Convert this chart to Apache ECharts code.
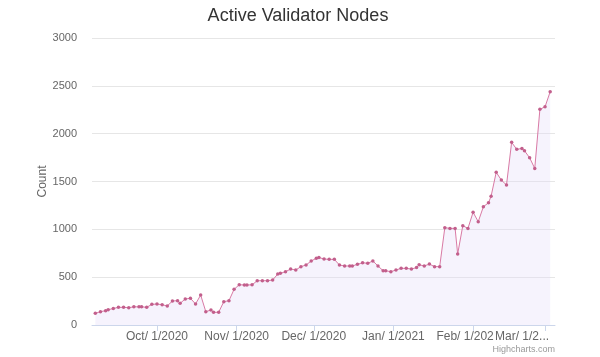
<!DOCTYPE html>
<html>
<head>
<meta charset="utf-8">
<script src="https://cdn.jsdelivr.net/npm/echarts@6/dist/echarts.min.js"></script>
<style>
  html, body { margin: 0; padding: 0; background: #ffffff; }
  #chart { width: 600px; height: 357px; }
</style>
</head>
<body>
<div id="chart"></div>
<script>
// ---- Data ----
const dates = [
  '2020-09-07','2020-09-09','2020-09-11','2020-09-12','2020-09-14','2020-09-16','2020-09-18','2020-09-20',
  '2020-09-22','2020-09-24','2020-09-25','2020-09-27','2020-09-29','2020-10-01','2020-10-03','2020-10-05',
  '2020-10-07','2020-10-09','2020-10-10','2020-10-12','2020-10-14','2020-10-16','2020-10-18','2020-10-20',
  '2020-10-22','2020-10-23','2020-10-25','2020-10-27','2020-10-29','2020-10-31','2020-11-02','2020-11-04',
  '2020-11-05','2020-11-07','2020-11-09','2020-11-11','2020-11-13','2020-11-15','2020-11-17','2020-11-18',
  '2020-11-20','2020-11-22','2020-11-24','2020-11-26','2020-11-28','2020-11-30','2020-12-02','2020-12-03',
  '2020-12-05','2020-12-07','2020-12-09','2020-12-11','2020-12-13','2020-12-15','2020-12-16','2020-12-18',
  '2020-12-20','2020-12-22','2020-12-24','2020-12-26','2020-12-28','2020-12-29','2020-12-31','2021-01-02',
  '2021-01-04','2021-01-06','2021-01-08','2021-01-10','2021-01-11','2021-01-13','2021-01-15','2021-01-17',
  '2021-01-19','2021-01-21','2021-01-23','2021-01-25','2021-01-26','2021-01-28','2021-01-30','2021-02-01',
  '2021-02-03','2021-02-05','2021-02-07','2021-02-08','2021-02-10','2021-02-12','2021-02-14','2021-02-16',
  '2021-02-18','2021-02-20','2021-02-21','2021-02-23','2021-02-25','2021-02-27','2021-03-01','2021-03-03'
];
const activeNodes = [
  122, 139, 150, 160, 172, 185, 185, 181,
  190, 190, 190, 185, 216, 219, 212, 199,
  251, 254, 227, 272, 279, 220, 313, 139,
  157, 133, 133, 244, 254, 373, 421, 418,
  418, 420, 463, 463, 463, 470, 533, 540,
  557, 585, 575, 610, 627, 669, 697, 705,
  690, 686, 686, 627, 617, 617, 617, 634,
  651, 645, 669, 617, 567, 567, 557, 575,
  592, 592, 585, 600, 630, 617, 637, 610,
  610, 1017, 1010, 1010, 742, 1038, 1010, 1178,
  1080, 1236, 1278, 1345, 1596, 1515, 1463, 1909,
  1836, 1846, 1822, 1748, 1637, 2254, 2281, 2438
];
const tickDates = ['2020-10-01','2020-11-01','2020-12-01','2021-01-01','2021-02-01','2021-03-01'];
const tickLabels = ['Oct/ 1/2020','Nov/ 1/2020','Dec/ 1/2020','Jan/ 1/2021','Feb/ 1/202','Mar/ 1/2...'];
const yTicks = [0, 500, 1000, 1500, 2000, 2500, 3000];

// ---- helpers ----
function toTs(s) {
  const p = s.split('-').map(Number);
  return Date.UTC(p[0], p[1] - 1, p[2]);
}
const tickTs = tickDates.map(toTs);
const seriesData = dates.map((d, i) => [toTs(d), activeNodes[i]]);

const chart = echarts.init(document.getElementById('chart'), null, { renderer: 'canvas' });
const font = '"Liberation Sans", Arial, sans-serif';

const option = {
  animation: false,
  backgroundColor: '#ffffff',
  textStyle: { fontFamily: font },
  title: {
    text: 'Active Validator Nodes',
    left: 293,
    textAlign: 'center',
    top: 2,
    textStyle: { fontFamily: font, fontSize: 18, fontWeight: 'normal', color: '#333333' }
  },
  grid: { left: 92, right: 45, top: 38, bottom: 32, containLabel: false },
  xAxis: {
    type: 'value',
    min: Date.UTC(2020, 8, 5, 17),
    max: Date.UTC(2021, 2, 4, 21),
    axisLine: { show: true, lineStyle: { color: '#ccd6eb', width: 1 } },
    axisTick: { show: true, customValues: tickTs, length: 6, lineStyle: { color: '#ccd6eb' } },
    splitLine: { show: false },
    axisLabel: {
      customValues: tickTs,
      hideOverlap: false,
      showMinLabel: true,
      showMaxLabel: true,
      margin: 6,
      color: '#666666',
      fontSize: 12,
      fontFamily: font,
      formatter: function (v) {
        const idx = tickTs.indexOf(v);
        const txt = idx >= 0 ? tickLabels[idx] : '';
        if (idx === 4) return '{f|' + txt + '}';
        if (idx === 5) return '{m|' + txt + '}';
        return txt;
      },
      rich: {
        f: { color: '#666666', fontSize: 12, fontFamily: font, padding: [0, 16, 0, 0] },
        m: { color: '#666666', fontSize: 12, fontFamily: font, padding: [0, 46, 0, 0] }
      }
    }
  },
  yAxis: {
    type: 'value',
    min: yTicks[0],
    max: yTicks[yTicks.length - 1],
    interval: yTicks[1] - yTicks[0],
    name: 'Count',
    nameLocation: 'middle',
    nameGap: 43,
    nameMoveOverlap: false,
    nameTextStyle: { color: '#666666', fontSize: 12, fontFamily: font },
    axisLine: { show: false },
    axisTick: { show: false },
    splitLine: { show: true, lineStyle: { color: '#e6e6e6', width: 1 } },
    axisLabel: {
      color: '#666666', fontSize: 11, fontFamily: font, margin: 15,
      formatter: function (v) { return String(v); }
    }
  },
  series: [{
    name: 'Active Validator Nodes',
    type: 'line',
    data: seriesData,
    symbol: 'circle',
    symbolSize: 3.5,
    showSymbol: true,
    lineStyle: { color: '#d97aa5', width: 1 },
    itemStyle: { color: '#c25f8c' },
    areaStyle: { color: 'rgba(226,216,250,0.45)' },
    z: 3
  }],
  graphic: [{
    type: 'text',
    right: 45,
    top: 345,
    style: { text: 'Highcharts.com', fill: '#999999', fontSize: 9, fontFamily: font }
  }]
};
chart.setOption(option);
</script>
</body>
</html>
